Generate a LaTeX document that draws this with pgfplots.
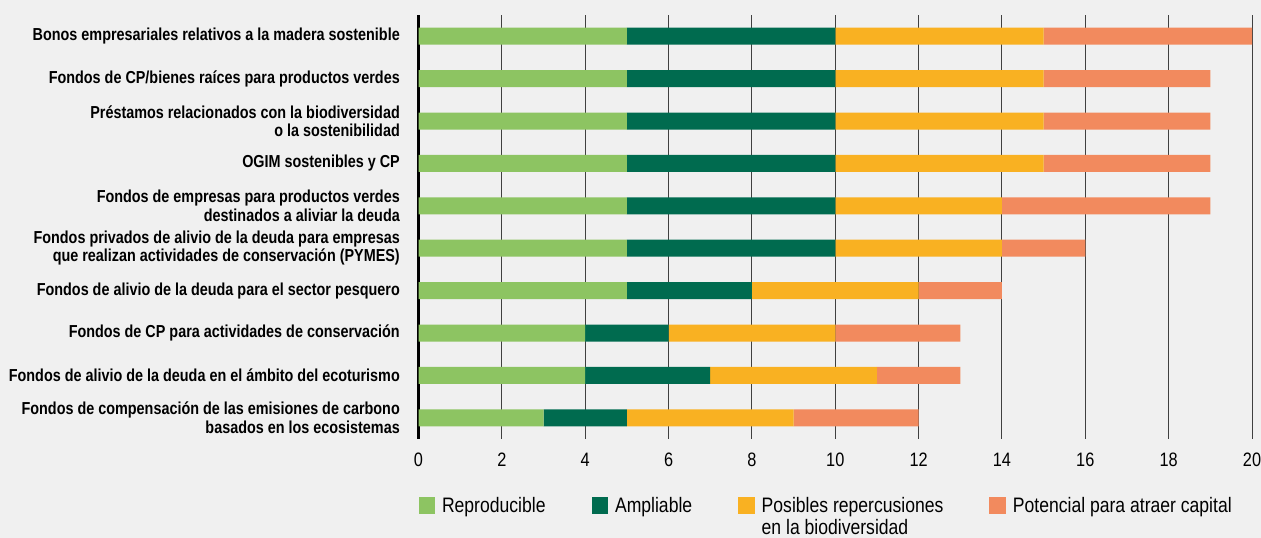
\documentclass[border=0pt]{standalone}
\usepackage{fontspec}
\setmainfont{Liberation Sans}[FakeStretch=0.84]
\newfontfamily\lblfont{Liberation Sans}[FakeStretch=0.83]
\usepackage{pgfplots}
\pgfplotsset{compat=1.18}
\usepackage{pgfplotstable}
\definecolor{bg}{HTML}{F0F0F0}
\definecolor{cA}{HTML}{8DC462}
\definecolor{cB}{HTML}{006B4F}
\definecolor{cC}{HTML}{F9B122}
\definecolor{cD}{HTML}{F28A5E}
\pgfplotstableread{
y rep amp pos pot
0 5 5 5 5
1 5 5 5 4
2 5 5 5 4
3 5 5 5 4
4 5 5 4 5
5 5 5 4 2
6 5 3 4 2
7 4 2 4 3
8 4 3 4 2
9 3 2 4 3
}\datatable
\begin{document}
\begin{tikzpicture}
\path[use as bounding box] (0,0) rectangle (1261bp,538bp);
\fill[bg] (0,0) rectangle (1261bp,538bp);
\begin{axis}[
  at={(418.5bp,99bp)}, anchor=south west,
  scale only axis, width=833.5bp, height=424bp,
  xbar stacked, bar width=17bp,
  xmin=0, xmax=20, ymin=-0.5, ymax=9.5, y dir=reverse,
  xtick={0,2,...,20}, ytick={0,...,9},
  yticklabels={
    Bonos empresariales relativos a la madera sostenible,
    Fondos de CP/bienes raíces para productos verdes,
    {Préstamos relacionados con la biodiversidad\\o la sostenibilidad},
    OGIM sostenibles y CP,
    {Fondos de empresas para productos verdes\\destinados a aliviar la deuda},
    {Fondos privados de alivio de la deuda para empresas\\que realizan actividades de conservación (PYMES)},
    Fondos de alivio de la deuda para el sector pesquero,
    Fondos de CP para actividades de conservación,
    Fondos de alivio de la deuda en el ámbito del ecoturismo,
    {Fondos de compensación de las emisiones de carbono\\basados en los ecosistemas}},
  xmajorgrids, grid style={black!75, line width=1bp},
  major tick length=0pt,
  axis line style={draw=none},
  extra x ticks={0}, extra x tick labels={},
  extra x tick style={grid style={black, line width=2bp}},
  /pgf/number format/assume math mode=true,
  xticklabel style={font=\fontsize{19.5}{22}\selectfont, inner sep=0pt, yshift=-14bp},
  yticklabel style={font=\lblfont\bfseries\fontsize{17.4}{18.5}\selectfont, align=right, inner sep=0pt, xshift=-18.5bp},
  legend columns=4,
  legend style={draw=none, fill=none, inner sep=0pt, outer sep=0pt,
    at={(0,0)}, anchor=north west, yshift=-58bp,
    font=\fontsize{21}{22}\selectfont,
    nodes={inner sep=0pt},
    /tikz/every odd column/.append style={column sep=7bp},
    /tikz/every even column/.append style={column sep=46bp}},
  legend cell align=left,
  legend image code/.code={\fill[#1] (0bp,-7.8bp) rectangle (16.5bp,8.7bp);},
]
\addplot[fill=cA, draw=none] table[x=rep, y=y]{\datatable};
\addplot[fill=cB, draw=none] table[x=amp, y=y]{\datatable};
\addplot[fill=cC, draw=none] table[x=pos, y=y]{\datatable};
\addplot[fill=cD, draw=none] table[x=pot, y=y]{\datatable};
\legend{Reproducible, Ampliable, {\begin{tabular}[t]{@{}l@{}}Posibles repercusiones\\en la biodiversidad\end{tabular}}, Potencial para atraer capital}
\end{axis}
\end{tikzpicture}
\end{document}
